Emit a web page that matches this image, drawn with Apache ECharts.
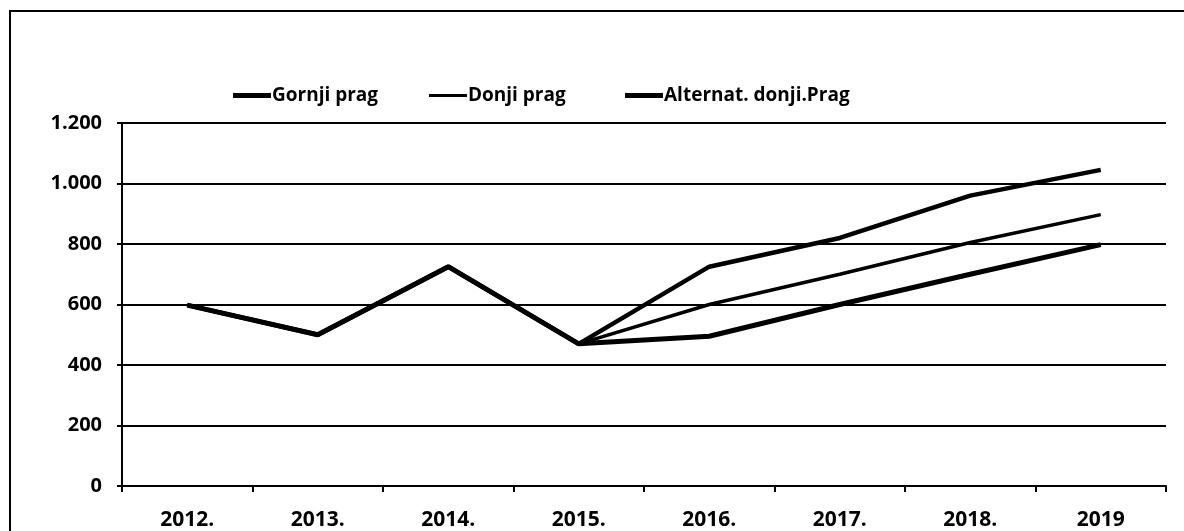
<!DOCTYPE html>
<html>
<head>
<meta charset="utf-8">
<script src="https://cdn.jsdelivr.net/npm/echarts@6/dist/echarts.min.js"></script>
<style>
	html,body{margin:0;padding:0;background:#fff;}
	#main{width:1184px;height:531px;}
</style>
</head>
<body>
<div id="main"></div>
<script>
var godine = ['2012.', '2013.', '2014.', '2015.', '2016.', '2017.', '2018.', '2019'];
var gornjiPrag = [598, 500, 725, 470, 725, 820, 960, 1045];
var donjiPrag = [598, 500, 725, 470, 600, 700, 805, 897];
var alternatDonji = [598, 500, 725, 470, 495, 600, 700, 798];
var yTicks = ['0', '200', '400', '600', '800', '1.000', '1.200'];

var font = 'Open Sans';
var chart = echarts.init(document.getElementById('main'));

function legenda(name, left, h) {
	return {
		data: [{name: name}],
		left: left,
		top: 81,
		icon: 'rect',
		itemWidth: 38,
		itemHeight: h,
		itemGap: 0,
		textStyle: {color: '#000', fontFamily: font, fontWeight: 'bold', fontSize: 19, padding: [0, 0, 0, -4]}
	};
}

var option = {
	backgroundColor: '#fff',
	animation: false,
	graphic: [{
		type: 'rect',
		shape: {x: 10, y: 11, width: 1300, height: 700},
		style: {fill: 'none', stroke: '#000', lineWidth: 2}
	}],
	legend: [
		legenda('Gornji prag', 228, 5),
		legenda('Donji prag', 424, 3),
		legenda('Alternat. donji.Prag', 620, 5)
	],
	grid: {left: 122, right: 18, top: 123, bottom: 44},
	xAxis: {
		type: 'category',
		boundaryGap: true,
		data: godine,
		axisLine: {lineStyle: {color: '#000', width: 2}},
		axisTick: {show: true, length: 6, lineStyle: {color: '#000', width: 2}},
		axisLabel: {color: '#000', fontFamily: font, fontWeight: 'bold', fontSize: 21, margin: 24}
	},
	yAxis: {
		type: 'value',
		min: 0,
		max: 1200,
		interval: 200,
		axisLine: {show: true, lineStyle: {color: '#000', width: 2}},
		axisTick: {show: true, length: 5, lineStyle: {color: '#000', width: 2}},
		axisLabel: {
			color: '#000', fontFamily: font, fontWeight: 'bold', fontSize: 20, margin: 20,
			padding: [10, 0, 0, 0],
			formatter: function (v) { return yTicks[v / 200]; }
		},
		splitLine: {lineStyle: {color: '#000', width: 2}}
	},
	series: [
		{
			name: 'Gornji prag',
			type: 'line',
			data: gornjiPrag,
			showSymbol: false,
			itemStyle: {color: '#000'},
			lineStyle: {color: '#000', width: 4.5}
		},
		{
			name: 'Donji prag',
			type: 'line',
			data: donjiPrag,
			showSymbol: false,
			itemStyle: {color: '#000'},
			lineStyle: {color: '#000', width: 3.5}
		},
		{
			name: 'Alternat. donji.Prag',
			type: 'line',
			data: alternatDonji,
			showSymbol: false,
			itemStyle: {color: '#000'},
			lineStyle: {color: '#000', width: 5}
		}
	]
};
chart.setOption(option);
</script>
</body>
</html>
